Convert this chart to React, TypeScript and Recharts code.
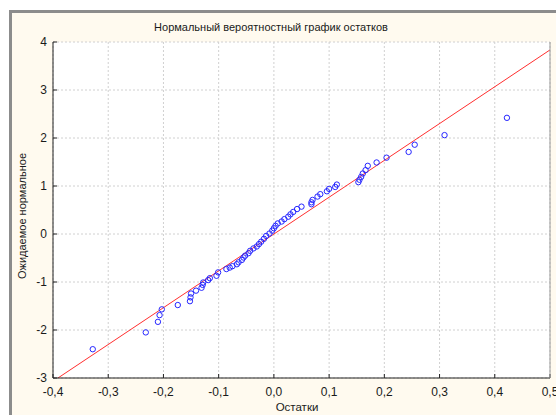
import React from 'react';
import { ScatterChart, Scatter, XAxis, YAxis, CartesianGrid, ReferenceLine } from 'recharts';

const residuals = [
  -0.328, -0.232, -0.21, -0.207, -0.203, -0.174, -0.152, -0.151, -0.15, -0.141,
  -0.131, -0.129, -0.128, -0.119, -0.116, -0.104, -0.101, -0.086, -0.08, -0.075,
  -0.067, -0.064, -0.058, -0.055, -0.052, -0.046, -0.043, -0.037, -0.031, -0.027,
  -0.023, -0.018, -0.014, -0.008, -0.003, 0.0, 0.003, 0.007, 0.014, 0.019,
  0.026, 0.03, 0.035, 0.042, 0.05, 0.068, 0.068, 0.07, 0.079, 0.084,
  0.096, 0.1, 0.111, 0.114, 0.153, 0.155, 0.158, 0.161, 0.166, 0.17,
  0.186, 0.204, 0.244, 0.255, 0.309, 0.422,
];
const expectedNormal = [
  -2.4, -2.05, -1.83, -1.69, -1.57, -1.48, -1.4, -1.32, -1.24, -1.18,
  -1.12, -1.06, -1.01, -0.96, -0.92, -0.87, -0.8, -0.73, -0.7, -0.67,
  -0.63, -0.59, -0.54, -0.49, -0.45, -0.4, -0.35, -0.3, -0.26, -0.21,
  -0.16, -0.1, -0.04, 0.01, 0.07, 0.12, 0.17, 0.22, 0.26, 0.31,
  0.36, 0.41, 0.46, 0.52, 0.57, 0.62, 0.66, 0.71, 0.78, 0.83,
  0.89, 0.94, 0.98, 1.03, 1.08, 1.13, 1.19, 1.26, 1.33, 1.42,
  1.49, 1.59, 1.71, 1.86, 2.06, 2.42,
];
const xTicks = [-0.4, -0.3, -0.2, -0.1, 0.0, 0.1, 0.2, 0.3, 0.4, 0.5];
const yTicks = [-3, -2, -1, 0, 1, 2, 3, 4];
const fitLineX = [-0.391, 0.5];
const fitLineY = [-3, 3.835];

const titleText = 'Нормальный вероятностный график остатков';
const xLabelText = 'Остатки';
const yLabelText = 'Ожидаемое нормальное';

const points = residuals.map((x, i) => ({ x, y: expectedNormal[i] }));
const fitSegment = fitLineX.map((x, i) => ({ x, y: fitLineY[i] }));

const FONT = '"Liberation Sans", Arial, sans-serif';
const fmtX = (v: number) => v.toFixed(1).replace('.', ',');

const Dot = (props: any) => (
  <circle cx={props.cx} cy={props.cy} r={2.7} fill="none" stroke="#2626ff" strokeWidth={1} />
);

export default function App() {
  return (
    <div style={{ position: 'absolute', left: 0, top: 0, width: 556, height: 415, background: '#ffffff', overflow: 'hidden', fontFamily: FONT }}>
      <div
        style={{
          position: 'absolute',
          left: 9,
          top: 10,
          width: 600,
          height: 460,
          background: '#fffaef',
          borderLeft: '3px solid #8c8c8c',
          borderTop: '3px solid #8c8c8c',
        }}
      />
      <div style={{ position: 'absolute', left: 0, top: 0 }}>
        <ScatterChart width={556} height={415} margin={{ top: 42, right: 0, bottom: 0, left: 0 }}>
          <CartesianGrid fill="#ffffff" stroke="#d0d0d0" strokeDasharray="2 2" xAxisId="b" yAxisId="l" />
          <XAxis
            xAxisId="b"
            type="number"
            dataKey="x"
            domain={[-0.4, 0.5]}
            ticks={xTicks}
            tickFormatter={fmtX}
            interval={0}
            height={37}
            axisLine={{ stroke: '#222222' }}
            tickLine={{ stroke: '#222222' }}
            tickSize={-4}
            tickMargin={13}
            tick={{ fill: '#1a1a1a', fontSize: 12, fontFamily: FONT }}
            allowDataOverflow
          />
          <XAxis
            xAxisId="t"
            orientation="top"
            type="number"
            domain={[-0.4, 0.5]}
            ticks={xTicks}
            height={0}
            axisLine={{ stroke: '#8a8a8a', strokeWidth: 1.5 }}
            tickLine={{ stroke: '#333333' }}
            tickSize={-4}
            tick={false}
            allowDataOverflow
          />
          <YAxis
            yAxisId="l"
            type="number"
            dataKey="y"
            domain={[-3, 4]}
            ticks={yTicks}
            interval={0}
            width={53}
            axisLine={{ stroke: '#222222' }}
            tickLine={{ stroke: '#222222' }}
            tickSize={-4}
            tickMargin={10}
            tick={{ fill: '#1a1a1a', fontSize: 12, fontFamily: FONT }}
            allowDataOverflow
          />
          <YAxis
            yAxisId="r"
            orientation="right"
            type="number"
            domain={[-3, 4]}
            ticks={yTicks}
            width={6}
            axisLine={{ stroke: '#9a9a9a' }}
            tickLine={{ stroke: '#555555' }}
            tickSize={-4}
            tick={false}
            allowDataOverflow
          />
          <ReferenceLine
            xAxisId="b"
            yAxisId="l"
            segment={fitSegment}
            stroke="#ff2e2e"
            strokeWidth={1}
            ifOverflow="hidden"
          />
          <Scatter
            xAxisId="b"
            yAxisId="l"
            data={points}
            shape={Dot}
            isAnimationActive={false}
          />
        </ScatterChart>
      </div>
      <div style={{ position: 'absolute', left: 0, width: 542, top: 20, textAlign: 'center', fontSize: 11, color: '#1a1a1a', lineHeight: '14px', whiteSpace: 'nowrap' }}>
        {titleText}
      </div>
      <div style={{ position: 'absolute', left: 197, width: 200, top: 400, textAlign: 'center', fontSize: 11.5, color: '#1a1a1a', lineHeight: '14px', whiteSpace: 'nowrap' }}>
        {xLabelText}
      </div>
      <div
        style={{
          position: 'absolute',
          left: 22 - 100,
          top: 216 - 7,
          width: 200,
          height: 14,
          textAlign: 'center',
          fontSize: 11,
          color: '#1a1a1a',
          lineHeight: '14px',
          whiteSpace: 'nowrap',
          transform: 'rotate(-90deg)',
          transformOrigin: '100px 7px',
        }}
      >
        {yLabelText}
      </div>
    </div>
  );
}
